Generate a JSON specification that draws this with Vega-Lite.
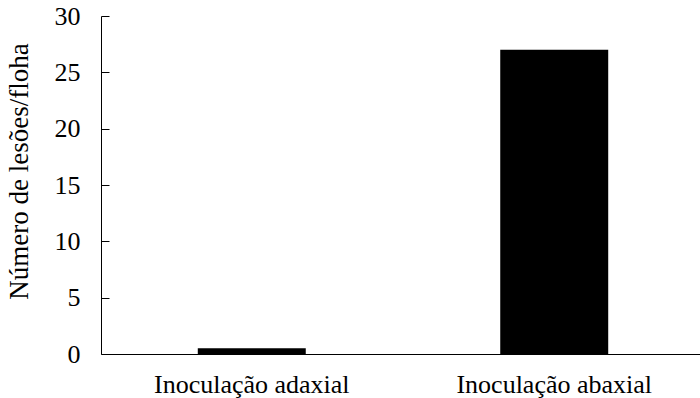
{
  "$schema": "https://vega.github.io/schema/vega-lite/v6.json",
  "autosize": "none",
  "width": 604,
  "height": 338,
  "padding": {"left": 101, "top": 16, "right": 0, "bottom": 44},
  "background": "white",
  "config": {
    "view": {"stroke": null},
    "font": "Liberation Serif",
    "axis": {"grid": false, "domainColor": "#000000", "tickColor": "#000000", "labelColor": "#000000", "titleColor": "#000000", "labelFont": "Liberation Serif", "titleFont": "Liberation Serif", "labelLimit": 0}
  },
  "data": {
    "values": [
      {"tratamento": "Inoculação adaxial", "lesoes": 0.5},
      {"tratamento": "Inoculação abaxial", "lesoes": 27}
    ]
  },
  "mark": {"type": "bar", "color": "#000000"},
  "encoding": {
    "x": {
      "field": "tratamento",
      "type": "nominal",
      "sort": null,
      "scale": {"paddingInner": 0.643, "paddingOuter": 0.32},
      "axis": {"title": null, "labelAngle": 0, "ticks": false, "labelFontSize": 26, "labelPadding": 17, "labelLimit": 0, "domainWidth": 1}
    },
    "y": {
      "field": "lesoes",
      "type": "quantitative",
      "scale": {"domain": [0, 30], "nice": false},
      "axis": {"title": "Número de lesões/floha", "values": [0, 5, 10, 15, 20, 25, 30], "tickSize": -8, "labelPadding": 29, "labelFontSize": 26, "titleFontSize": 27, "titleFontWeight": "normal", "titleBaseline": "alphabetic", "titleX": -74, "titleY": 155, "titleAngle": -90, "domainWidth": 1}
    }
  }
}
